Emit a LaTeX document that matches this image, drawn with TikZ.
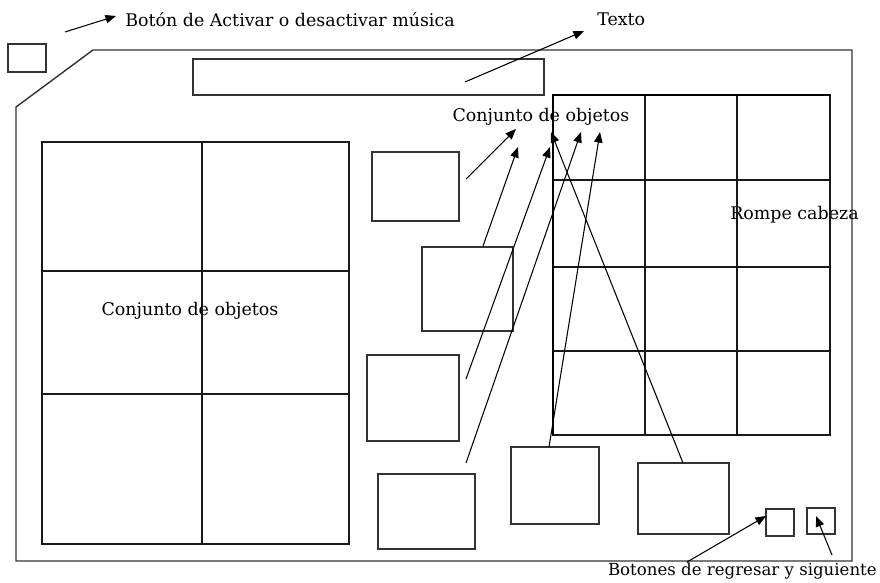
\documentclass[tikz,border=0pt]{standalone}
\usepackage{fontspec}
\setmainfont{DejaVu Serif}
\usetikzlibrary{arrows.meta}

\tikzset{
	box/.style={draw=black!80, line width=1pt},
	cell/.style={draw=black!90, line width=0.8pt},
	lbl/.style={font=\fontsize{12.4}{14}\selectfont, inner sep=0pt},
	pointer/.style={-{Triangle[length=7.5pt,width=6pt]}, line width=0.75pt},
}

\begin{document}
\begin{tikzpicture}[x=0.025cm, y=-0.025cm]
	\useasboundingbox (0,0) rectangle (880,583);
	
	% screen frame
	\draw[box] (93,50) -- (852,50) -- (852,561) -- (16,561) -- (16,107) -- cycle;
	\draw[box] (8,44) rectangle (46,72); % music button
	\draw[box] (193,59) rectangle (544,95); % text bar
	
	% labels
	\node[lbl, anchor=west] (musica) at (125,20) {Botón de Activar o desactivar música};
	\node[lbl, anchor=west] (texto) at (597,19) {Texto};
	\node[lbl] (conjTop) at (541,117) {Conjunto de objetos};
	\node[lbl, anchor=west] (rompe) at (730,215) {Rompe cabeza};
	\node[lbl] (conjLeft) at (190,311) {Conjunto de objetos};
	\node[lbl, anchor=east, font=\fontsize{11.8}{14}\selectfont] (botones) at (877,571) {Botones de regresar y siguiente};
	
	% left set of objects
	\draw[cell] (42,142) rectangle (349,544);
	\draw[cell] (202,142) -- (202,544);
	\foreach \y in {271,394} {
		\draw[cell] (42,\y) -- (349,\y);
	}
	
	% puzzle
	\draw[cell] (553,95) rectangle (830,435);
	\foreach \x in {645,737} {
		\draw[cell] (\x,95) -- (\x,435);
	}
	\foreach \y in {180,267,351} {
		\draw[cell] (553,\y) -- (830,\y);
	}
	\draw[line width=1.4pt] (553,435) -- (553,95) -- (830,95);
	
	% loose objects
	\draw[box] (372,152) rectangle (459,221);
	\draw[box] (422,247) rectangle (513,331);
	\draw[box] (367,355) rectangle (459,441);
	\draw[box] (378,474) rectangle (475,549);
	\draw[box] (511,447) rectangle (599,524);
	\draw[box] (638,463) rectangle (729,534);
	
	% back / next buttons
	\draw[box] (766,509) rectangle (794,536);
	\draw[box] (807,508) rectangle (835,534);
	
	% arrow ends
	\coordinate (m0) at (65,32);   \coordinate (m1) at (116,16);
	\coordinate (t0) at (465,82);  \coordinate (t1) at (584,31);
	\coordinate (a0) at (466,179); \coordinate (a1) at (516,129);
	\coordinate (b0) at (483,246); \coordinate (b1) at (518,147);
	\coordinate (c0) at (466,379); \coordinate (c1) at (550,147);
	\coordinate (d0) at (466,463); \coordinate (d1) at (581,132);
	\coordinate (e0) at (549,447); \coordinate (e1) at (600,132);
	\coordinate (f0) at (683,463); \coordinate (f1) at (551,132);
	\coordinate (g0) at (687,562); \coordinate (g1) at (766,516);
	\coordinate (h0) at (832,555); \coordinate (h1) at (816,516);
	
	\foreach \p in {m,t,a,b,c,d,e,f,g,h} {
		\draw[pointer] (\p0) -- (\p1);
	}
	
\end{tikzpicture}
\end{document}
